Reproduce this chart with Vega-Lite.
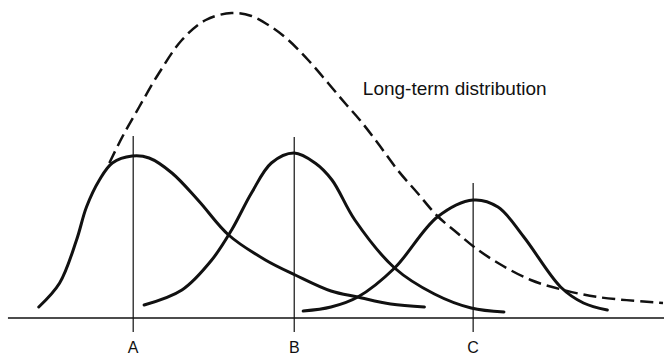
{
  "$schema": "https://vega.github.io/schema/vega-lite/v6.json",
  "width": 668,
  "height": 356,
  "autosize": {"type": "fit", "contains": "padding"},
  "padding": 0,
  "background": "white",
  "config": {"view": {"stroke": null}},
  "datasets": {
    "longterm": [
      {"x": 110, "h": 155}, {"x": 123, "h": 181}, {"x": 140, "h": 211}, {"x": 160, "h": 245},
      {"x": 183, "h": 278}, {"x": 207, "h": 298}, {"x": 233, "h": 305}, {"x": 253, "h": 302},
      {"x": 273, "h": 291}, {"x": 290, "h": 278}, {"x": 310, "h": 258}, {"x": 330, "h": 235},
      {"x": 347, "h": 215}, {"x": 362, "h": 198}, {"x": 380, "h": 175}, {"x": 400, "h": 148},
      {"x": 420, "h": 125}, {"x": 440, "h": 102}, {"x": 460, "h": 85}, {"x": 477, "h": 71},
      {"x": 501, "h": 55}, {"x": 534, "h": 38}, {"x": 567, "h": 28}, {"x": 601, "h": 21}, {"x": 667, "h": 15}
    ],
    "curves": [
      {"c": "A", "x": 39, "h": 11}, {"c": "A", "x": 60, "h": 35}, {"c": "A", "x": 77, "h": 78},
      {"c": "A", "x": 87, "h": 111}, {"c": "A", "x": 100, "h": 138}, {"c": "A", "x": 113, "h": 155},
      {"c": "A", "x": 133, "h": 162}, {"c": "A", "x": 150, "h": 160}, {"c": "A", "x": 173, "h": 145},
      {"c": "A", "x": 200, "h": 117}, {"c": "A", "x": 230, "h": 83}, {"c": "A", "x": 267, "h": 58},
      {"c": "A", "x": 297, "h": 43}, {"c": "A", "x": 333, "h": 27}, {"c": "A", "x": 360, "h": 21},
      {"c": "A", "x": 393, "h": 14}, {"c": "A", "x": 427, "h": 11},
      {"c": "B", "x": 145, "h": 13}, {"c": "B", "x": 183, "h": 28}, {"c": "B", "x": 213, "h": 58},
      {"c": "B", "x": 233, "h": 88}, {"c": "B", "x": 253, "h": 125}, {"c": "B", "x": 273, "h": 155},
      {"c": "B", "x": 296, "h": 165}, {"c": "B", "x": 317, "h": 155}, {"c": "B", "x": 334, "h": 138},
      {"c": "B", "x": 357, "h": 98}, {"c": "B", "x": 397, "h": 50}, {"c": "B", "x": 437, "h": 24},
      {"c": "B", "x": 474, "h": 10}, {"c": "B", "x": 507, "h": 6},
      {"c": "C", "x": 305, "h": 7}, {"c": "C", "x": 333, "h": 11}, {"c": "C", "x": 360, "h": 21},
      {"c": "C", "x": 397, "h": 50}, {"c": "C", "x": 440, "h": 101}, {"c": "C", "x": 476, "h": 118},
      {"c": "C", "x": 501, "h": 111}, {"c": "C", "x": 527, "h": 81}, {"c": "C", "x": 564, "h": 31},
      {"c": "C", "x": 587, "h": 15}, {"c": "C", "x": 611, "h": 8}
    ],
    "markers": [
      {"label": "A", "x": 134, "top": 182, "bottom": -14, "ly": -22},
      {"label": "B", "x": 296, "top": 181, "bottom": -14, "ly": -22},
      {"label": "C", "x": 476, "top": 135, "bottom": -14, "ly": -22}
    ],
    "baseline": [{"x1": 8, "x2": 668, "h": 0}],
    "note": [{"x": 365, "h": 223, "text": "Long-term distribution"}]
  },
  "encoding": {},
  "layer": [
    {
      "data": {"name": "baseline"},
      "mark": {"type": "rule", "stroke": "#111", "strokeWidth": 1.6},
      "encoding": {
        "x": {"field": "x1", "type": "quantitative", "scale": {"domain": [0, 668], "nice": false, "zero": false}, "axis": null},
        "x2": {"field": "x2"},
        "y": {"field": "h", "type": "quantitative", "scale": {"domain": [-38, 318], "nice": false, "zero": false}, "axis": null}
      }
    },
    {
      "data": {"name": "markers"},
      "mark": {"type": "rule", "stroke": "#111", "strokeWidth": 1.2},
      "encoding": {
        "x": {"field": "x", "type": "quantitative", "scale": {"domain": [0, 668], "nice": false, "zero": false}, "axis": null},
        "y": {"field": "bottom", "type": "quantitative", "scale": {"domain": [-38, 318], "nice": false, "zero": false}, "axis": null},
        "y2": {"field": "top"}
      }
    },
    {
      "data": {"name": "markers"},
      "mark": {"type": "text", "font": "Liberation Sans", "fontSize": 16, "baseline": "top", "align": "center", "color": "#111"},
      "encoding": {
        "x": {"field": "x", "type": "quantitative", "scale": {"domain": [0, 668], "nice": false, "zero": false}, "axis": null},
        "y": {"field": "ly", "type": "quantitative", "scale": {"domain": [-38, 318], "nice": false, "zero": false}, "axis": null},
        "text": {"field": "label"}
      }
    },
    {
      "data": {"name": "curves"},
      "mark": {"type": "line", "interpolate": "catmull-rom", "stroke": "#111", "strokeWidth": 3, "strokeCap": "round"},
      "encoding": {
        "x": {"field": "x", "type": "quantitative", "scale": {"domain": [0, 668], "nice": false, "zero": false}, "axis": null},
        "y": {"field": "h", "type": "quantitative", "scale": {"domain": [-38, 318], "nice": false, "zero": false}, "axis": null},
        "detail": {"field": "c"}
      }
    },
    {
      "data": {"name": "longterm"},
      "mark": {"type": "line", "interpolate": "catmull-rom", "stroke": "#111", "strokeWidth": 2.5, "strokeDash": [13, 6]},
      "encoding": {
        "x": {"field": "x", "type": "quantitative", "scale": {"domain": [0, 668], "nice": false, "zero": false}, "axis": null},
        "y": {"field": "h", "type": "quantitative", "scale": {"domain": [-38, 318], "nice": false, "zero": false}, "axis": null}
      }
    },
    {
      "data": {"name": "note"},
      "mark": {"type": "text", "font": "Liberation Sans", "fontSize": 19, "baseline": "alphabetic", "align": "left", "color": "#111"},
      "encoding": {
        "x": {"field": "x", "type": "quantitative", "scale": {"domain": [0, 668], "nice": false, "zero": false}, "axis": null},
        "y": {"field": "h", "type": "quantitative", "scale": {"domain": [-38, 318], "nice": false, "zero": false}, "axis": null},
        "text": {"field": "text"}
      }
    }
  ]
}
